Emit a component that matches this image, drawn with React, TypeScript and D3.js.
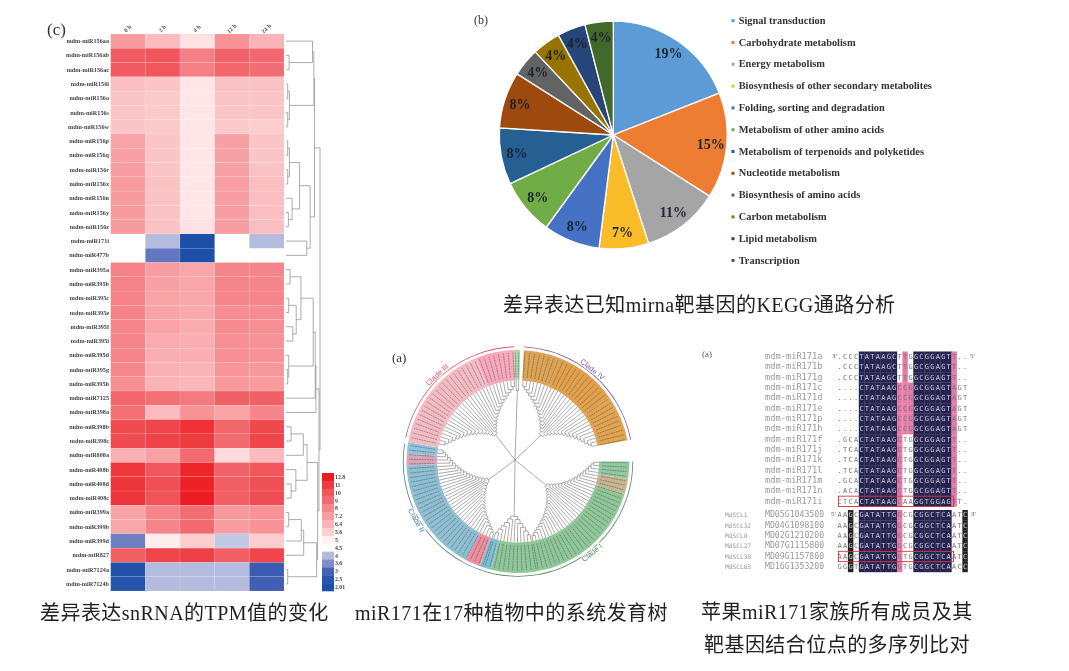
import React from "react";
import * as d3 from "d3";

const width = 1069;
const height = 671;
const serif = "'Liberation Serif', 'Noto Sans CJK SC', serif";

// panel c: heatmap
const rowNames = [
  "mdm-miR156aa", "mdm-miR156ab", "mdm-miR156ac", "mdm-miR156l", "mdm-miR156o", "mdm-miR156s", "mdm-miR156w",
  "mdm-miR156p", "mdm-miR156q", "mdm-miR156r", "mdm-miR156x", "mdm-miR156n", "mdm-miR156y", "mdm-miR156z",
  "mdm-miR171i", "mdm-miR477b", "mdm-miR395a", "mdm-miR395b", "mdm-miR395c", "mdm-miR395e", "mdm-miR395f",
  "mdm-miR395i", "mdm-miR395d", "mdm-miR395g", "mdm-miR395h", "mdm-miR7125", "mdm-miR398a", "mdm-miR398b",
  "mdm-miR398c", "mdm-miR808a", "mdm-miR408b", "mdm-miR408d", "mdm-miR408c", "mdm-miR399a", "mdm-miR399b",
  "mdm-miR399d", "mdm-miR827", "mdm-miR7124a", "mdm-miR7124b",
];
const timePoints = ["0 h", "2 h", "4 h", "12 h", "24 h"];
const tpm0h = [7.3, 9.8, 9.8, 6.1, 5.9, 5.9, 5.9, 7, 7.1, 7.2, 7.3, 7.3, 7.3, 7.3, null, null, 8.1, 8.1, 8.1, 8.1, 8, 8, 8, 7.9, 7.7, 9.2, 8.8, 10.4, 10.4, 6.5, 11.2, 11.4, 11.4, 7, 6.9, 3.4, 9.6, 2.2, 2.3];
const tpm2h = [6.2, 10, 10, 5.9, 5.8, 5.8, 5.8, 5.9, 5.9, 5.9, 6, 6, 6, 6, 4, 3.3, 7.2, 7.1, 7, 7, 7, 6.7, 6.6, 6.5, 6.4, 8.8, 6.2, 10.6, 10.7, 7.1, 10, 10.2, 10.1, 8, 8, 5.1, 10.6, 4, 4];
const tpm4h = [5.3, 8.2, 8.2, 5.2, 5.2, 5.2, 5.2, 5.2, 5.2, 5.2, 5.2, 5.2, 5.2, 5.3, 2.01, 2.01, 6.9, 6.9, 6.9, 6.8, 6.7, 6.6, 6.6, 6.4, 6.3, 8.4, 7.6, 11.5, 11, 9, 12.4, 12.6, 12.8, 8.9, 9, 5.7, 10.8, 4, 4];
const tpm12h = [7.6, 9.4, 9.2, 6, 5.9, 5.9, 5.8, 7.1, 7.1, 7.1, 7.2, 7.2, 7.2, 7.2, null, null, 8, 8, 8, 7.8, 7.8, 7.7, 7.7, 7.5, 7.4, 9.5, 7, 9.2, 9, 5.4, 9.4, 9.6, 9.6, 7.4, 7.2, 4.1, 9.6, 4, 4];
const tpm24h = [6.4, 9.1, 8.9, 6, 5.9, 5.9, 5.7, 5.9, 5.9, 6, 6.1, 6.1, 6.1, 6.1, 4, null, 8, 8, 8, 7.8, 7.7, 7.6, 7.6, 7.4, 7.3, 9.5, 8, 10.5, 10.6, 6.2, 10, 10.2, 10.3, 7.6, 7.6, 5.7, 10.6, 2.8, 2.9];
const tpmColumns = [tpm0h, tpm2h, tpm4h, tpm12h, tpm24h];

const legendTicks = [12.8, 11, 10, 9, 8, 7.2, 6.4, 5.6, 5, 4.5, 4, 3.6, 3, 2.5, 2.01];
const legendColors = ["#ed1f24", "#ee3a40", "#f0565c", "#f26a70", "#f5858a", "#f89ea2", "#fab3b6", "#fcd0d2", "#fff1f1", "#ffffff", "#b3bbdf", "#838dcb", "#4561b4", "#2a55ad", "#1d4fa8"];

// row dendrogram: [merge height, child, child], leaves are row numbers
const cluster156Top = [82, [78, 0, [9, 1, 2]], [10, [5, 3, 4], [5, 5, 6]]];
const cluster156Low = [71, [40, [10, [5, 7, 8], [5, 9, 10]], [18, 11, [7, 12, 13]]], [61, 14, 15]];
const cluster395 = [88, [86, [80, [44, [12, 16, 17], [30, [8, 18, 19], [20, 20, 21]]], [8, 22, [5, 23, 24]]], 25], 26];
const cluster398 = [62, [51, [15, 27, 28], 29], [29, 30, [15, 31, 32]]];
const cluster399 = [90, [52, [45, [8, 33, 34], 35], 36], [5, 37, 38]];
const dendrogram = [100, [84, cluster156Top, cluster156Low], [97, cluster395, [93, cluster398, cluster399]]];

// panel b: pie
const pathways = [
  "Signal transduction", "Carbohydrate metabolism", "Energy metabolism", "Biosynthesis of other secondary metabolites",
  "Folding, sorting and degradation", "Metabolism of other amino acids", "Metabolism of terpenoids and polyketides",
  "Nucleotide metabolism", "Biosynthesis of amino acids", "Carbon metabolism", "Lipid metabolism", "Transcription",
];
const pathwayShares = [19, 15, 11, 7, 8, 8, 8, 8, 4, 4, 4, 4];
const pathwayColors = ["#5b9bd5", "#ed7d31", "#a5a5a5", "#fbbc2c", "#4472c4", "#70ad47", "#255e91", "#9e480e", "#636363", "#997300", "#264478", "#43682b"];

// panel a: circular tree, angles in degrees clockwise from the top
const groupStart = [3, 90, 170, 198, 282, 358];
const groupEnd = [79, 170, 198, 279, 358, 361];
const groupLeaves = [30, 34, 12, 34, 30, 2];
const groupRootRadius = [38, 40, 58, 38, 38, 74];
const ringStart = [3, 22, 55, 90, 99, 107, 194, 200, 208, 268, 274, 280, 338, 358];
const ringEnd = [22, 55, 79, 99, 107, 194, 200, 208, 268, 274, 280, 338, 358, 361];
const ringColors = ["#dfa355", "#e2a04e", "#e0a453", "#93c9a0", "#c8b692", "#8fc79a", "#7fbfd5", "#ee8fa0", "#8fbfd2", "#d9a5b8", "#8fc4da", "#f3bcc4", "#f9a9bd", "#a8d8b0"];
const cladeNames = ["Clade IV", "Clade I", "Clade II", "Clade III"];
const cladeLabelAngle = [39, 141, 240, 317];
const cladeColors = ["#7a5ea8", "#4f8a5c", "#4d7f9e", "#d9596b"];
const rimStart = [3, 90, 198, 282];
const rimEnd = [79, 198, 279, 358];

// panel a (right): alignment
const mirnaNames = ["mdm-miR171a", "mdm-miR171b", "mdm-miR171g", "mdm-miR171c", "mdm-miR171d", "mdm-miR171e", "mdm-miR171p", "mdm-miR171h", "mdm-miR171f", "mdm-miR171j", "mdm-miR171k", "mdm-miR171l", "mdm-miR171m", "mdm-miR171n", "mdm-miR171i"];
const mirnaSeqs = [
  ".CCCTATAAGCTTGGCGGAGTT..", ".CCCTATAAGCTTGGCGGAGTT..", ".CCCTATAAGCTTGGCGGAGTT..",
  "....CTATAAGCCGGCGGAGTAGT", "....CTATAAGCCGGCGGAGTAGT", "....CTATAAGCCGGCGGAGTAGT", "....CTATAAGCCGGCGGAGTAGT", "....CTATAAGCCGGCGGAGTAGT",
  ".GCACTATAAGCTGGCGGAGTT..", ".TCACTATAAGCTGGCGGAGTT..", ".TCACTATAAGCTGGCGGAGTT..", ".TCACTATAAGCTGGCGGAGTT..", ".GCACTATAAGCTGGCGGAGTT..", ".ACACTATAAGCTGGCGGAGTT..",
  "CTCACTATAAGCAAGGTGGAGTT.",
];
const mirnaPink = [[12, 21], [12, 21], [12, 21], [11, 12, 13, 21], [11, 12, 13, 21], [11, 12, 13, 21], [11, 12, 13, 21], [11, 12, 13, 21], [11, 21], [11, 21], [11, 21], [11, 21], [11, 21], [11, 21], [11, 21]];
const targetFamilies = ["MdSCL1", "MdSCL32", "MdSCL8", "MdSCL27", "MdSCL30", "MdSCL63"];
const targetIds = ["MD05G1043500", "MD04G1098100", "MD02G1210200", "MD07G1115800", "MD09G1157800", "MD16G1353200"];
const targetSeqs = [
  "AAGCGATATTGGCGCGGCTCAATC", "AAGCGATATTGGCGCGGCTCAATC", "AAGCGATATTGGCGCGGCTCAATC",
  "AAGCGATATTGGCGCGGCTCAATC", "AAGCGATATTGGTGCGGCTCAATC", "GGGTGATATTGGTGCGGCTCAACC",
];
const darkColumns = [4, 5, 6, 7, 8, 9, 10, 14, 15, 16, 17, 18, 19, 20];
const targetBlackColumns = [2, 23];
const targetPinkColumn = 11;

const x = d3.scaleBand<string>().domain(timePoints).range([110.7, 284]);
const y = d3.scaleBand<string>().domain(rowNames).range([34, 591]);
const heatColor = d3.scaleLinear<string>().domain(legendTicks).range(legendColors).clamp(true);
const legendY = d3.scaleBand<string>().domain(legendTicks.map(String)).range([473, 591]);

const dendroX = d3.scaleLinear().domain([0, 100]).range([286, 320]);
const dendroRoot = d3.hierarchy<any>(dendrogram, (d) => (Array.isArray(d) ? d.slice(1) : null));
const dendroPos = new Map<any, { px: number; py: number }>();
dendroRoot.eachAfter((n) => {
  if (n.children) {
    const ys = n.children.map((c) => dendroPos.get(c)!.py);
    dendroPos.set(n, { px: dendroX(n.data[0]), py: (ys[0] + ys[ys.length - 1]) / 2 });
  } else {
    dendroPos.set(n, { px: dendroX(0), py: y(rowNames[n.data])! + y.bandwidth() / 2 });
  }
});

const pieCx = 613.3;
const pieCy = 135;
const pieArcs = d3.pie<number>().sort(null)(pathwayShares);
const pieArc = d3.arc<d3.PieArcDatum<number>>().innerRadius(0).outerRadius(114);
const pieLabelArc = d3.arc<d3.PieArcDatum<number>>().innerRadius(98).outerRadius(98);
const legendRow = d3.scalePoint<string>().domain(pathways).range([20.7, 260.5]);

// circular tree
const treeCx = 518;
const treeCy = 461.5;
const rad = d3.scaleLinear().domain([0, 360]).range([0, 2 * Math.PI]);
const polar = (deg: number, r: number): [number, number] => [
  treeCx + r * Math.sin(rad(deg)),
  treeCy - r * Math.cos(rad(deg)),
];

// ladder topology: leaves join one by one, the middle of a clade joins deepest
const ladder = (leaves: number[]): any =>
  leaves.length === 1 ? leaves[0] : [leaves[0], ladder(leaves.slice(1))];

const treePaths: string[] = [];
const leafAngles: number[] = [];
groupLeaves.forEach((count, g) => {
  const angle = d3.scaleLinear().domain([0, count - 1]).range([groupStart[g] + 0.6, groupEnd[g] - 0.6]);
  const ids = d3.range(count);
  ids.forEach((i) => leafAngles.push(angle(i)));
  const half = Math.ceil(count / 2);
  const left = ladder(ids.slice(0, half).reverse());
  const right = ladder(ids.slice(half));
  const root = d3.hierarchy<any>({ kids: [left, right] }, (d) =>
    d.kids ? d.kids : Array.isArray(d) ? d : null
  );
  const depthR = d3.scaleLinear().domain([1, half]).range([groupRootRadius[g], 78]);
  const pos = new Map<any, { a: number; r: number }>();
  root.eachAfter((n) => {
    if (!n.children) {
      pos.set(n, { a: angle(n.data), r: 81 });
    } else {
      const as = n.children.map((c) => pos.get(c)!.a);
      const r = n.parent ? depthR(n.depth) : groupRootRadius[g] - 3;
      pos.set(n, { a: d3.mean(as)!, r: Math.min(r, 78) });
    }
  });
  root.each((n) => {
    if (!n.children) return;
    const p = pos.get(n)!;
    const first = pos.get(n.children[0])!;
    const last = pos.get(n.children[n.children.length - 1])!;
    const [ax, ay] = polar(first.a, p.r);
    const [bx, by] = polar(last.a, p.r);
    treePaths.push(`M${ax},${ay}A${p.r},${p.r} 0 0 ${last.a > first.a ? 1 : 0} ${bx},${by}`);
    n.children.forEach((c) => {
      const k = pos.get(c)!;
      const [sx, sy] = polar(k.a, p.r);
      const [ex, ey] = polar(k.a, k.r);
      treePaths.push(`M${sx},${sy}L${ex},${ey}`);
    });
  });
  const [tx, ty] = polar(pos.get(root)!.a, pos.get(root)!.r);
  treePaths.push(`M${treeCx - 3},${treeCy - 1.5}L${tx},${ty}`);
});

const ringArc = d3.arc();
const rimArc = d3.arc();

const seqCol = d3.scaleBand<number>().domain(d3.range(24)).range([837, 967.8]);
const mirnaRow = d3.scaleBand<string>().domain(mirnaNames).range([351.5, 506.5]);
const targetRow = d3.scaleBand<string>().domain(targetIds).range([510, 572]);

const App = () => {
  return (
    <svg width={width} height={height} style={{ position: "absolute", left: 0, top: 0, background: "#fff" }}>
      <defs>
        <filter id="soft" x="0" y="0" width="100%" height="100%">
          <feGaussianBlur stdDeviation="0.45" />
        </filter>
      </defs>
      <g filter="url(#soft)">
        {/* heatmap */}
        {tpmColumns.map((col, c) =>
          col.map((v, r) =>
            v === null ? null : (
              <rect key={`${c}-${r}`} x={x(timePoints[c])} y={y(rowNames[r])} width={x.bandwidth()} height={y.bandwidth()} fill={heatColor(v)} stroke="#fff" strokeOpacity={0.25} strokeWidth={0.4} />
            )
          )
        )}
        {rowNames.map((name) => (
          <text key={name} x={109} y={y(name)! + y.bandwidth() / 2 + 2} textAnchor="end" fontFamily={serif} fontSize={6.2} fontWeight="bold" fill="#444">{name}</text>
        ))}
        {timePoints.map((t) => (
          <text key={t} transform={`translate(${x(t)! + x.bandwidth() / 2 + 1},30) rotate(-45)`} textAnchor="middle" fontFamily={serif} fontSize={6} fontWeight="bold" fill="#555">{t}</text>
        ))}
        {dendroRoot.descendants().filter((n) => n.children).map((n, i) => {
          const p = dendroPos.get(n)!;
          const kids = n.children!.map((c) => dendroPos.get(c)!);
          const d = kids.map((k) => `M${k.px},${k.py}H${p.px}`).join("") + `M${p.px},${kids[0].py}V${kids[kids.length - 1].py}`;
          return <path key={i} d={d} fill="none" stroke="#888" strokeWidth={0.7} />;
        })}
        {legendTicks.map((t, i) => (
          <g key={t}>
            <rect x={322} y={legendY(String(t))} width={12} height={legendY.bandwidth() + 0.3} fill={legendColors[i]} />
            <text x={335} y={legendY(String(t))! + legendY.bandwidth() / 2 + 2} fontFamily={serif} fontSize={5.8} fontWeight="bold" fill="#444">{t}</text>
          </g>
        ))}
        <text x={47} y={35} fontFamily={serif} fontSize={17} fill="#333">(c)</text>

        {/* pie */}
        <g transform={`translate(${pieCx},${pieCy})`}>
          {pieArcs.map((a, i) => (
            <path key={i} d={pieArc(a)!} fill={pathwayColors[i]} stroke="#fff" strokeWidth={1.3} />
          ))}
          {pieArcs.map((a, i) => {
            const [lx, ly] = pieLabelArc.centroid(a);
            return (
              <text key={i} x={lx} y={ly + 4.5} textAnchor="middle" fontFamily={serif} fontSize={14} fontWeight="bold" fill="#1c2530">{pathwayShares[i]}%</text>
            );
          })}
        </g>
        {pathways.map((p, i) => (
          <g key={p}>
            <rect x={731.5} y={legendRow(p)! - 1.5} width={3} height={3} fill={pathwayColors[i]} />
            <text x={738.7} y={legendRow(p)! + 3} fontFamily={serif} fontSize={10.4} fontWeight="bold" fill="#333">{p}</text>
          </g>
        ))}
        <text x={474} y={24} fontFamily={serif} fontSize={12} fill="#333">(b)</text>

        {/* circular tree */}
        <g transform={`translate(${treeCx},${treeCy})`}>
          {ringColors.map((color, i) => (
            <path key={i} d={ringArc({ startAngle: rad(ringStart[i]), endAngle: rad(ringEnd[i]), innerRadius: 81, outerRadius: 111.5 })!} fill={color} />
          ))}
          {rimStart.map((s, i) => (
            <path key={i} d={rimArc({ startAngle: rad(s), endAngle: rad(rimEnd[i]), innerRadius: 114.4, outerRadius: 115.2 })!} fill={cladeColors[i]} />
          ))}
        </g>
        {leafAngles.map((a, i) => {
          const [sx, sy] = polar(a, 84);
          const [ex, ey] = polar(a, 109);
          return <line key={i} x1={sx} y1={sy} x2={ex} y2={ey} stroke="#333" strokeOpacity={0.45} strokeWidth={0.9} strokeDasharray="2 0.6" />;
        })}
        <path d={treePaths.join("")} fill="none" stroke="#666" strokeWidth={0.55} />
        {cladeNames.map((name, i) => {
          const a = cladeLabelAngle[i];
          const [lx, ly] = polar(a, 118);
          const flip = a > 90 && a < 270;
          return (
            <text key={name} transform={`translate(${lx},${ly}) rotate(${flip ? a - 180 : a})`} textAnchor="middle" dominantBaseline="middle" fontFamily="'Liberation Sans', sans-serif" fontSize={7.5} fill={cladeColors[i]} stroke="#fff" strokeWidth={2} paintOrder="stroke">{name}</text>
          );
        })}
        <text x={392} y={362} fontFamily={serif} fontSize={13} fill="#333">(a)</text>

        {/* alignment */}
        <text x={702} y={357} fontFamily={serif} fontSize={9} fill="#555">(a)</text>
        {mirnaNames.map((name, r) => {
          const top = mirnaRow(name)!;
          const h = mirnaRow.bandwidth();
          return (
            <g key={name}>
              {darkColumns.map((c) => (
                <rect key={c} x={seqCol(c)} y={top} width={seqCol.bandwidth() + 0.2} height={h + 0.2} fill="#26234f" />
              ))}
              {mirnaPink[r].map((c) => (
                <rect key={c} x={seqCol(c)} y={top} width={seqCol.bandwidth()} height={h + 0.2} fill="#e47ba6" />
              ))}
              <text x={765} y={top + h / 2 + 2.2} fontFamily="'DejaVu Sans Mono', monospace" fontSize={8.7} fill="#999">{name}</text>
              {mirnaSeqs[r].split("").map((ch, c) => (
                <text key={c} x={seqCol(c)! + seqCol.bandwidth() / 2} y={top + h / 2 + 2.2} textAnchor="middle" fontFamily="'DejaVu Sans Mono', monospace" fontSize={7} fill={darkColumns.includes(c) ? "#cfcfe0" : "#777"}>{ch}</text>
              ))}
            </g>
          );
        })}
        <text x={832} y={358} fontFamily={serif} fontSize={7} fill="#555">3'</text>
        <text x={970} y={358} fontFamily={serif} fontSize={7} fill="#555">5'</text>
        {targetIds.map((id, r) => {
          const top = targetRow(id)!;
          const h = targetRow.bandwidth();
          return (
            <g key={id}>
              {darkColumns.map((c) => (
                <rect key={c} x={seqCol(c)} y={top} width={seqCol.bandwidth() + 0.2} height={h + 0.2} fill="#26234f" />
              ))}
              {targetBlackColumns.map((c) => (
                <rect key={c} x={seqCol(c)} y={top} width={seqCol.bandwidth()} height={h + 0.2} fill="#222" />
              ))}
              <rect x={seqCol(targetPinkColumn)} y={top} width={seqCol.bandwidth()} height={h + 0.2} fill="#e47ba6" />
              <text x={725} y={top + h / 2 + 2} fontFamily="'DejaVu Sans Mono', monospace" fontSize={6.2} fill="#999">{targetFamilies[r]}</text>
              <text x={765} y={top + h / 2 + 2} fontFamily="'DejaVu Sans Mono', monospace" fontSize={8.2} fill="#999">{id}</text>
              {targetSeqs[r].split("").map((ch, c) => (
                <text key={c} x={seqCol(c)! + seqCol.bandwidth() / 2} y={top + h / 2 + 2.2} textAnchor="middle" fontFamily="'DejaVu Sans Mono', monospace" fontSize={7} fill={darkColumns.includes(c) || targetBlackColumns.includes(c) ? "#cfcfe0" : "#777"}>{ch}</text>
              ))}
            </g>
          );
        })}
        <text x={831} y={516} fontFamily={serif} fontSize={7} fill="#555">5'</text>
        <text x={971} y={516} fontFamily={serif} fontSize={7} fill="#555">3'</text>
        <rect x={838.5} y={mirnaRow(mirnaNames[14])} width={115} height={mirnaRow.bandwidth()} fill="none" stroke="#d8333f" strokeWidth={0.9} />
        <rect x={838.5} y={targetRow(targetIds[4])} width={115} height={targetRow.bandwidth()} fill="none" stroke="#d8333f" strokeWidth={0.9} />

        {/* captions */}
        <g fontFamily={serif} fontSize={20} letterSpacing={0.45} fill="#222">
          <text x={40} y={620}>差异表达snRNA的TPM值的变化</text>
          <text x={355} y={620}>miR171在17种植物中的系统发育树</text>
          <text x={701} y={619}>苹果miR171家族所有成员及其</text>
          <text x={704} y={652}>靶基因结合位点的多序列比对</text>
          <text x={503} y={312}>差异表达已知mirna靶基因的KEGG通路分析</text>
        </g>
      </g>
    </svg>
  );
};

export default App;
